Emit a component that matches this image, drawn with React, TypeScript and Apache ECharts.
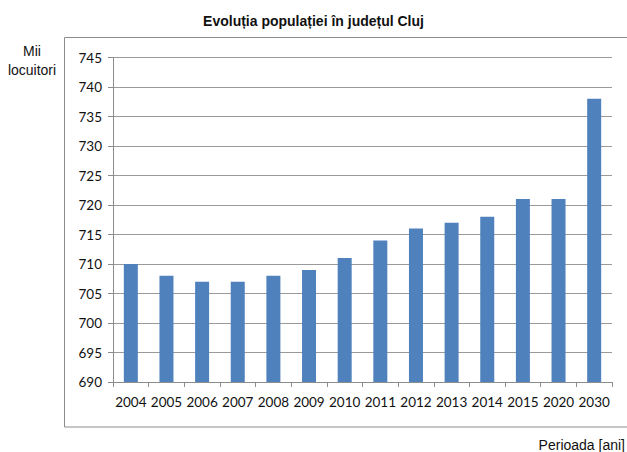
import React, { useEffect, useRef } from "react";
import * as echarts from "echarts";

const years = ["2004", "2005", "2006", "2007", "2008", "2009", "2010", "2011", "2012", "2013", "2014", "2015", "2020", "2030"];
const population = [710, 708, 707, 707, 708, 709, 711, 714, 716, 717, 718, 721, 721, 738];
const titleText = "Evoluția populației în județul Cluj";
const yAxisTitle = "Mii\nlocuitori";
const xAxisTitle = "Perioada [ani]";

export default function App() {
  const ref = useRef<HTMLDivElement>(null);
  useEffect(() => {
    if (!ref.current) return;
    const chart = echarts.init(ref.current, null, { renderer: "svg" });
    const narrow = "'Liberation Sans Narrow', 'Arial Narrow', 'Liberation Sans', sans-serif";
    chart.setOption({
      animation: false,
      backgroundColor: "#ffffff",
      title: {
        text: titleText,
        left: "center",
        top: 9,
        textStyle: { fontFamily: narrow, fontWeight: "bold", fontSize: 14, color: "#111" },
      },
      graphic: [
        {
          type: "rect",
          shape: { x: 64.5, y: 37.5, width: 620, height: 389.5 },
          style: { fill: "none", stroke: "#8c8c8c", lineWidth: 1 },
          silent: true,
        },
        {
          type: "text",
          x: 32,
          y: 41,
          style: {
            text: yAxisTitle,
            fontFamily: narrow,
            fontSize: 14,
            fill: "#111",
            align: "center",
            lineHeight: 19,
          },
        },
        {
          type: "text",
          right: 2,
          top: 438,
          style: { text: xAxisTitle, fontFamily: narrow, fontSize: 14, fill: "#111" },
        },
      ],
      grid: { left: 113, top: 57.5, right: 15, bottom: 70, containLabel: false },
      xAxis: {
        type: "category",
        data: years,
        axisLine: { show: true, lineStyle: { color: "#8c8c8c", width: 1 } },
        axisTick: { show: true, alignWithLabel: false, length: 5, lineStyle: { color: "#8c8c8c" } },
        axisLabel: { fontFamily: "Lato, sans-serif", fontSize: 13.5, color: "#111", margin: 13, interval: 0 },
      },
      yAxis: {
        type: "value",
        min: 690,
        max: 745,
        interval: 5,
        axisLine: { show: true, lineStyle: { color: "#8c8c8c", width: 1 } },
        axisTick: { show: true, length: 5, inside: false, lineStyle: { color: "#8c8c8c" } },
        axisLabel: { fontFamily: "Lato, sans-serif", fontSize: 13.5, color: "#111", margin: 11 },
        splitLine: { show: true, lineStyle: { color: "#9a9a9a", width: 1 } },
      },
      series: [
        {
          type: "bar",
          data: population,
          barWidth: 14,
          itemStyle: { color: "#4f81bd" },
        },
      ],
    });
    return () => chart.dispose();
  }, []);
  return <div ref={ref} style={{ width: 627, height: 452, position: "absolute", left: 0, top: 0 }} />;
}
